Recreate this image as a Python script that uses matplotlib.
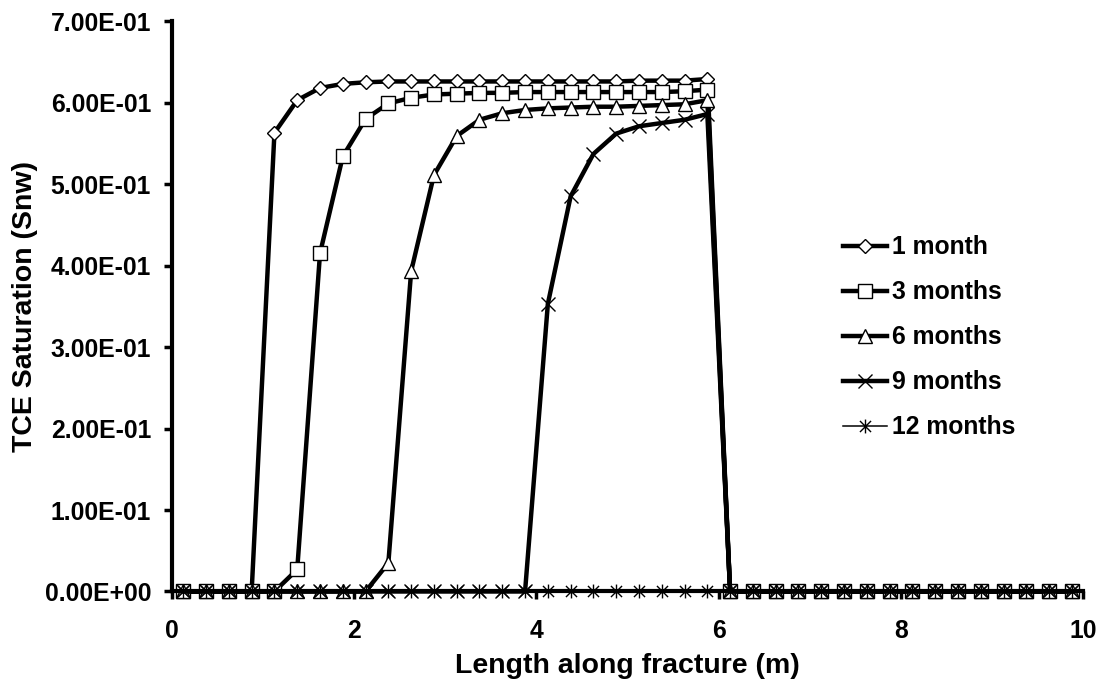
import matplotlib
matplotlib.use("Agg")
import matplotlib.pyplot as plt
from matplotlib.path import Path
from matplotlib.ticker import FuncFormatter, MultipleLocator

# positions along the fracture (m) - cell centres
x_m = [0.125, 0.375, 0.625, 0.875, 1.125, 1.375, 1.625, 1.875, 2.125, 2.375,
       2.625, 2.875, 3.125, 3.375, 3.625, 3.875, 4.125, 4.375, 4.625, 4.875,
       5.125, 5.375, 5.625, 5.875, 6.125, 6.375, 6.625, 6.875, 7.125, 7.375,
       7.625, 7.875, 8.125, 8.375, 8.625, 8.875, 9.125, 9.375, 9.625, 9.875]

sat_1_month = [0, 0, 0, 0, 0.563, 0.603, 0.618, 0.623, 0.625, 0.626,
               0.626, 0.626, 0.626, 0.626, 0.626, 0.626, 0.626, 0.626, 0.626, 0.626,
               0.627, 0.627, 0.627, 0.629, 0, 0, 0, 0, 0, 0,
               0, 0, 0, 0, 0, 0, 0, 0, 0, 0]

sat_3_months = [0, 0, 0, 0, 0, 0.027, 0.415, 0.534, 0.580, 0.599,
                0.606, 0.610, 0.611, 0.612, 0.612, 0.613, 0.613, 0.613, 0.613, 0.613,
                0.613, 0.613, 0.614, 0.616, 0, 0, 0, 0, 0, 0,
                0, 0, 0, 0, 0, 0, 0, 0, 0, 0]

sat_6_months = [0, 0, 0, 0, 0, 0, 0, 0, 0, 0.035,
                0.393, 0.511, 0.559, 0.579, 0.587, 0.591, 0.593, 0.594, 0.595, 0.595,
                0.596, 0.597, 0.598, 0.603, 0, 0, 0, 0, 0, 0,
                0, 0, 0, 0, 0, 0, 0, 0, 0, 0]

sat_9_months = [0, 0, 0, 0, 0, 0, 0, 0, 0, 0,
                0, 0, 0, 0, 0, 0, 0.353, 0.485, 0.537, 0.562,
                0.571, 0.575, 0.579, 0.586, 0, 0, 0, 0, 0, 0,
                0, 0, 0, 0, 0, 0, 0, 0, 0, 0]

sat_12_months = [0] * 40

labels = ["1 month", "3 months", "6 months", "9 months", "12 months"]

plt.rcParams['font.family'] = ['Liberation Sans', 'DejaVu Sans']
plt.rcParams['font.weight'] = 'bold'

fig = plt.figure(figsize=(11.02, 6.83), dpi=100)
ax = fig.add_axes([0.156, 0.134, 0.827, 0.835])

# asterisk marker: vertical bar + X
star = Path([(0, -1), (0, 1), (-0.8, -0.8), (0.8, 0.8), (-0.8, 0.8), (0.8, -0.8)],
            [Path.MOVETO, Path.LINETO, Path.MOVETO, Path.LINETO, Path.MOVETO, Path.LINETO])

styles = [
    dict(marker='D', markersize=7.5, lw=3.2),
    dict(marker='s', markersize=10, lw=3.2),
    dict(marker='^', markersize=10, lw=3.2),
    dict(marker='x', markersize=10.5, lw=3.2),
    dict(marker=star, markersize=10, lw=1.1),
]
series = [sat_1_month, sat_3_months, sat_6_months, sat_9_months, sat_12_months]

for s, lab, st in zip(series, labels, styles):
    ax.plot(x_m, s, color='black', lw=st['lw'], marker=st['marker'],
            markersize=st['markersize'], markerfacecolor='white',
            markeredgecolor='black', markeredgewidth=1.0, label=lab,
            solid_joinstyle='round', clip_on=False)

ax.set_xlim(0, 10)
ax.set_ylim(0, 0.7)
ax.xaxis.set_major_locator(MultipleLocator(2))
ax.yaxis.set_major_locator(MultipleLocator(0.1))
ax.yaxis.set_major_formatter(FuncFormatter(lambda v, p: '{:.2E}'.format(v)))

for side in ['top', 'right']:
    ax.spines[side].set_visible(False)
for side in ['left', 'bottom']:
    ax.spines[side].set_linewidth(3)
ax.tick_params(axis='both', direction='out', length=6, width=2.5,
               labelsize=17.8)
ax.tick_params(axis='x', pad=14)
ax.tick_params(axis='y', pad=9)
for t in ax.get_xticklabels() + ax.get_yticklabels():
    t.set_fontweight('bold')

ax.set_xlabel('Length along fracture (m)', fontsize=20.5, fontweight='bold', labelpad=7)
ax.set_ylabel('TCE Saturation (Snw)', fontsize=20.5, fontweight='bold', labelpad=5)

leg = ax.legend(loc='upper left', bbox_to_anchor=(0.7256, 0.642), frameon=False,
                fontsize=17.8, handlelength=1.78, handletextpad=0.2,
                labelspacing=0.85, borderaxespad=0)
for t in leg.get_texts():
    t.set_fontweight('bold')

fig.savefig('out.png', dpi=100)
